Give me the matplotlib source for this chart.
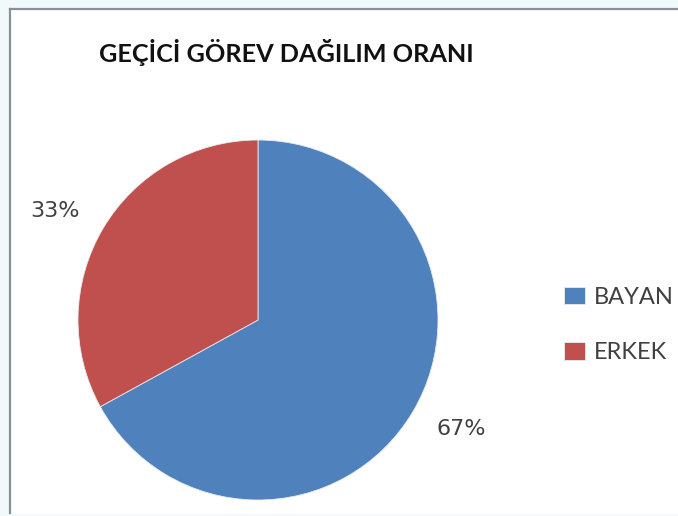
import matplotlib
matplotlib.use("Agg")
import numpy as np
import matplotlib.pyplot as plt
from matplotlib.lines import Line2D

labels = ["BAYAN", "ERKEK"]
values = [67, 33]
colors = ["#4F81BD", "#C0504D"]
title = "GEÇİCİ GÖREV DAĞILIM ORANI"

W, H = 678, 516
fig = plt.figure(figsize=(W / 100, H / 100), dpi=100)
fig.patch.set_facecolor("#F2F9FB")

# chart frame
frame = fig.add_axes([0, 0, 1, 1])
frame.set_xlim(0, W)
frame.set_ylim(H, 0)
frame.axis("off")
frame.fill_between([9.5, W + 5], 9, H - 3, color="white", zorder=0)
frame.add_line(Line2D([9.5, 9.5], [H - 3, 9], color="#8A8F94", lw=1.6))
frame.add_line(Line2D([9.5, W + 5], [9, 9], color="#8A8F94", lw=1.6))

cx, cy, r = 258, 320, 180
ax = fig.add_axes([(cx - r) / W, (H - cy - r) / H, 2 * r / W, 2 * r / H])
wedges, texts, autotexts = ax.pie(
    values, colors=colors, startangle=90, counterclock=False,
    autopct="%1.0f%%", pctdistance=1.28,
    wedgeprops=dict(edgecolor="#E8ECF2", linewidth=0.6),
    textprops=dict(fontsize=16, color="#404040", family="DejaVu Sans"),
)
# best-fit style label placement: slightly rotated from wedge middle
for w, t in zip(wedges, autotexts):
    mid = np.deg2rad((w.theta1 + w.theta2) / 2 + 2.5)
    t.set_position((1.28 * np.cos(mid), 1.28 * np.sin(mid)))
ax.set_aspect("equal")
ax.set_xlim(-1, 1)
ax.set_ylim(-1, 1)

fig.text(286 / W, 1 - 52 / H, title, ha="center", va="center",
         fontsize=18.2, fontweight="bold", family="Lato", color="#111111")

leg = fig.legend(wedges, labels, loc="center left",
                 bbox_to_anchor=(555 / W, 1 - 325 / H),
                 frameon=False, handlelength=0.85, handleheight=0.75,
                 handletextpad=0.4, labelspacing=1.45, borderaxespad=0,
                 prop=dict(family="Lato", size=17))
for t in leg.get_texts():
    t.set_color("#404040")

fig.savefig("out.png", dpi=100, facecolor=fig.get_facecolor())
